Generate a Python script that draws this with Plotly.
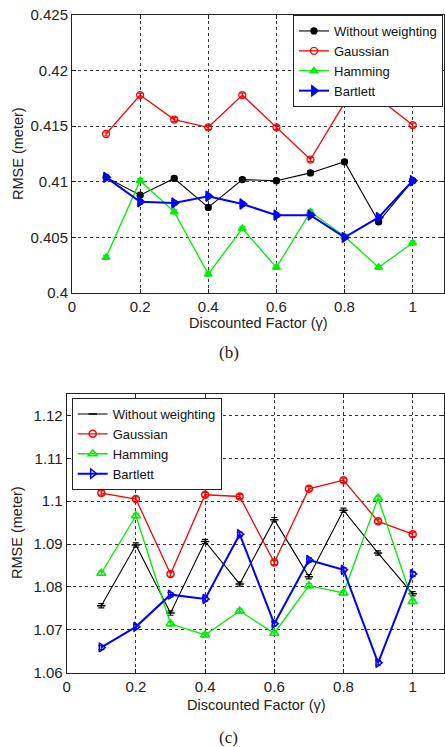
import plotly.graph_objects as go

gamma = [0.1, 0.2, 0.3, 0.4, 0.5, 0.6, 0.7, 0.8, 0.9, 1.0]
series_names = ["Without weighting", "Gaussian", "Hamming", "Bartlett"]

# Panel (b)
b_without = [0.4104, 0.4088, 0.4103, 0.4077, 0.4102, 0.4101, 0.4108, 0.4118, 0.4064, 0.4101]
b_gauss   = [0.4143, 0.4178, 0.4156, 0.4149, 0.4178, 0.4149, 0.4120, 0.4171, 0.4175, 0.4151]
b_hamming = [0.4032, 0.4101, 0.4073, 0.4017, 0.4058, 0.4023, 0.4073, 0.4051, 0.4023, 0.4045]
b_bartlett= [0.4104, 0.4082, 0.4081, 0.4087, 0.4080, 0.4070, 0.4070, 0.4050, 0.4068, 0.4101]

# Panel (c)
c_without = [1.0756, 1.0898, 1.0739, 1.0906, 1.0807, 1.0957, 1.0824, 1.0979, 1.0879, 1.0784]
c_gauss   = [1.1019, 1.1005, 1.0830, 1.1015, 1.1011, 1.0857, 1.1029, 1.1049, 1.0953, 1.0923]
c_hamming = [1.0832, 1.0966, 1.0714, 1.0688, 1.0744, 1.0692, 1.0803, 1.0786, 1.1007, 1.0766]
c_bartlett= [1.0659, 1.0707, 1.0782, 1.0772, 1.0923, 1.0714, 1.0863, 1.0840, 1.0623, 1.0830]

b_yticks = [0.4, 0.405, 0.41, 0.415, 0.42, 0.425]
b_yticklabels = ["0.4", "0.405", "0.41", "0.415", "0.42", "0.425"]
c_yticks = [1.06, 1.07, 1.08, 1.09, 1.10, 1.11, 1.12]
c_yticklabels = ["1.06", "1.07", "1.08", "1.09", "1.1", "1.11", "1.12"]
xticks = [0, 0.2, 0.4, 0.6, 0.8, 1.0]
xticklabels = ["0", "0.2", "0.4", "0.6", "0.8", "1"]

colors = ["#000000", "#ff0000", "#00ee00", "#0000ff"]
W, H = 445, 747
FONT = "Liberation Sans, Arial, sans-serif"

fig = go.Figure()

b_data = [b_without, b_gauss, b_hamming, b_bartlett]
c_data = [c_without, c_gauss, c_hamming, c_bartlett]
b_sym = ["circle", "circle-open", "triangle-up", "triangle-right"]
b_size = [6, 7, 7, 9]
c_sym = ["line-ew", "circle-open", "triangle-up-open", "triangle-right-open"]
c_size = [6, 7, 8, 8]
widths = [1.1, 1.3, 1.3, 2.0]

for i, name in enumerate(series_names):
    fig.add_trace(go.Scatter(
        x=gamma, y=b_data[i], name=name, mode="lines+markers",
        line=dict(color=colors[i], width=widths[i]),
        marker=dict(symbol=b_sym[i], size=b_size[i], color=colors[i],
                    line=dict(color=colors[i], width=1.3)),
        error_y=dict(type="constant", value=0.00018, color=colors[i], thickness=1.2, width=3),
        xaxis="x", yaxis="y", legend="legend"))

for i, name in enumerate(series_names):
    fig.add_trace(go.Scatter(
        x=gamma, y=c_data[i], name=name, mode="lines+markers",
        line=dict(color=colors[i], width=widths[i]),
        marker=dict(symbol=c_sym[i], size=c_size[i], color=colors[i],
                    line=dict(color=colors[i], width=1.5)),
        error_y=dict(type="constant", value=0.0005, color=colors[i], thickness=1.2, width=3),
        xaxis="x2", yaxis="y2", legend="legend2"))

axis_common = dict(
    showline=True, linecolor="#222", linewidth=1, mirror="ticks",
    ticks="inside", ticklen=4, tickcolor="#222", automargin=False,
    showgrid=True, gridcolor="#333", griddash="dot", gridwidth=1,
    zeroline=False, tickfont=dict(family=FONT, size=15, color="#222"),
)

legend_common = dict(bgcolor="white", bordercolor="#222", borderwidth=1,
                     font=dict(family=FONT, size=13, color="#111"),
                     tracegroupgap=0)

fig.update_layout(
    width=W, height=H, paper_bgcolor="white", plot_bgcolor="white",
    margin=dict(l=0, r=0, t=0, b=0, autoexpand=False),
    font=dict(family=FONT, size=14.5, color="#222"),
    xaxis=dict(domain=[72 / W, 444 / W], range=[0, 1.092], tickvals=xticks,
               ticktext=xticklabels, anchor="y", **axis_common),
    yaxis=dict(domain=[1 - 293 / H, 1 - 15 / H], range=[0.4, 0.425], tickvals=b_yticks,
               ticktext=b_yticklabels, anchor="x", **axis_common),
    xaxis2=dict(domain=[66.7 / W, 444 / W], range=[0, 1.0905], tickvals=xticks,
                ticktext=xticklabels, anchor="y2", **axis_common),
    yaxis2=dict(domain=[1 - 672.7 / H, 1 - 394 / H], range=[1.06, 1.125], tickvals=c_yticks,
                ticktext=c_yticklabels, anchor="x2", **axis_common),
    legend=dict(x=443 / W, xanchor="right", y=1 - 15 / H, yanchor="top", **legend_common),
    legend2=dict(x=71.7 / W, xanchor="left", y=1 - 398 / H, yanchor="top", **legend_common),
    showlegend=True,
)

ann = [
    dict(text="RMSE (meter)", x=18 / W, y=1 - 154 / H, textangle=-90),
    dict(text="Discounted Factor (\u03b3)", x=258 / W, y=1 - 323 / H),
    dict(text="RMSE (meter)", x=17 / W, y=1 - 533 / H, textangle=-90),
    dict(text="Discounted Factor (\u03b3)", x=256 / W, y=1 - 705 / H),
]
for a in ann:
    fig.add_annotation(xref="paper", yref="paper", showarrow=False,
                       xanchor="center", yanchor="middle",
                       font=dict(family=FONT, size=14.5, color="#222"), **a)

for t, xc, yc in [("(b)", 229, 352), ("(c)", 229, 737)]:
    fig.add_annotation(xref="paper", yref="paper", showarrow=False, text=t,
                       x=xc / W, y=1 - yc / H, xanchor="center", yanchor="middle",
                       font=dict(family="Liberation Serif, Times New Roman, serif", size=17, color="#222"))

fig.write_html("out.html", config={"displayModeBar": False},
               post_script="document.body.style.margin='0';document.body.style.overflow='hidden';")
